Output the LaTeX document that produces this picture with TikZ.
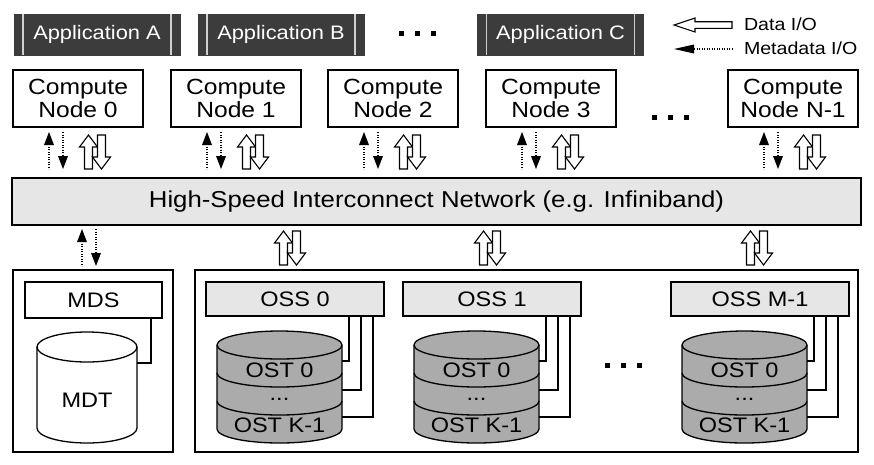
\documentclass[tikz,border=0pt]{standalone}
\usepackage{fontspec}
\setmainfont{Liberation Sans}[FakeStretch=1.12]
\usetikzlibrary{calc}
\definecolor{appgray}{HTML}{3C3C3C}
\definecolor{applight}{HTML}{D0D0D0}
\definecolor{netgray}{HTML}{E6E6E6}
\definecolor{ostgray}{HTML}{ABABAB}
\begin{document}
\begin{tikzpicture}[x=1pt,y=-1pt,
  every node/.style={inner sep=0pt, outer sep=0pt},
  app/.style={fill=appgray, draw=appgray, minimum width=166pt, minimum height=41pt,
    text=white, font=\fontsize{19.5}{21}\selectfont},
  appline/.style={draw=applight, line width=1.4pt},
  box/.style={draw, line width=1.5pt},
  cnode/.style={box, fill=white, minimum width=130pt, minimum height=57pt, align=center,
    font=\fontsize{22}{23}\selectfont},
  net/.style={box, fill=netgray, minimum width=849pt, minimum height=47pt,
    font=\fontsize{23}{25}\selectfont},
  container/.style={box, fill=white},
  server/.style={box, fill=netgray, minimum width=178pt, minimum height=34pt,
    font=\fontsize{21}{23}\selectfont},
  lbl/.style={font=\fontsize{21}{23}\selectfont},
  legend/.style={font=\fontsize{17.5}{19}\selectfont, anchor=west},
  conn/.style={line width=1.2pt},
  cyl/.style={draw, line width=1.3pt},
  hollow/.style={draw, fill=white, line width=1.1pt, line join=miter},
  meta/.style={line width=1.5pt, dash pattern=on 1.4pt off 1.1pt},
  hpair/.pic={
    \path[hollow] (-6.5,0) -- (2.5,12) -- (-2.5,12) -- (-2.5,34) -- (-10.5,34)
      -- (-10.5,12) -- (-15.5,12) -- cycle;
    \path[hollow] (6.5,34) -- (15.5,22) -- (10.5,22) -- (10.5,0) -- (2.5,0)
      -- (2.5,22) -- (-2.5,22) -- cycle;
  },
  mpair/.pic={
    \draw[meta] (-7,12) -- (-7,37);
    \fill (-7,0) -- (-2,13) -- (-12,13) -- cycle;
    \draw[meta] (7,0) -- (7,25);
    \fill (7,37) -- (12,24) -- (2,24) -- cycle;
  },
  dots/.pic={
    \foreach \k in {-1,0,1} \fill ({\k*16-2.5},-2.5) rectangle ++(5,5);
  }]
\useasboundingbox (0,0) rectangle (874,464);

% applications
\foreach \cx/\lab/\nm in {97/A/appA, 281/B/appB, 560.5/C/appC}{
  \node[app] (\nm) at (\cx,34.5) {Application \lab};
  \draw[appline] ([xshift=9pt]\nm.north west) -- ([xshift=9pt]\nm.south west);
  \draw[appline] ([xshift=-9pt]\nm.north east) -- ([xshift=-9pt]\nm.south east);
}
\pic at (417,33) {dots};

% legend
\coordinate (dtip) at (674,25);
\coordinate (mtip) at (674,49);
\coordinate (mend) at (732,49);
\path[hollow] (dtip) -- (695,18) -- (695,21.7) -- (732,21.7) -- (732,28.3)
  -- (695,28.3) -- (695,32) -- cycle;
\fill (mtip) -- (694,44.5) -- (694,53.5) -- cycle;
\draw[meta] (694,49) -- (mend);
\node[legend] (ldata) at (744,24) {Data I/O};
\node[legend] (lmeta) at (744,48) {Metadata I/O};

% compute nodes
\foreach \L/\lab/\nm in {13/0/c0, 171/1/c1, 328/2/c2, 486/3/c3, 728/N-1/cN}{
  \node[cnode, anchor=north west] (\nm) at (\L,70) {Compute\\Node \lab};
  \pic at ({\L+43},132) {mpair};
  \pic at ({\L+82},135) {hpair};
}
\pic at (670,117) {dots};

% network
\node[net] (net) at (436.5,201.5) {High-Speed Interconnect Network (e.g. Infiniband)};

% lower arrows
\pic at (89,229) {mpair};
\foreach \cx in {290,490,757} \pic at (\cx,231) {hpair};

% containers
\node[container, anchor=north west, minimum width=160pt, minimum height=182pt] (mdscont) at (13,270) {};
\node[container, anchor=north west, minimum width=663pt, minimum height=182pt] (osscont) at (195,270) {};

% MDS and MDT
\node[box, fill=white, minimum width=137pt, minimum height=36pt, lbl, anchor=north west] (mds) at (25,282) {MDS};
\path[cyl, fill=white] (37,347) -- (37,428)
  arc[start angle=180, end angle=360, x radius=50pt, y radius=15pt] -- (137,347)
  arc[start angle=0, end angle=180, x radius=50pt, y radius=15pt] -- cycle;
\draw[cyl] (37,347) arc[start angle=180, end angle=360, x radius=50pt, y radius=15pt];
\node[lbl] (mdt) at (87,400) {MDT};
\coordinate (mdtR) at (137,363);
\draw[conn] ([xshift=126pt]mds.south west) |- (mdtR);

% OSS and OSTs
\foreach \L/\lab/\n in {206/0/0, 403/1/1, 671/M-1/2}{
  \node[server, anchor=north west] (oss\n) at (\L,282) {OSS \lab};
  \path[cyl, fill=ostgray] ({\L+11},345) -- ({\L+11},429)
    arc[start angle=180, end angle=360, x radius=62.5pt, y radius=14pt] -- ({\L+136},345)
    arc[start angle=0, end angle=180, x radius=62.5pt, y radius=14pt] -- cycle;
  \foreach \yy in {345,373,401}
    \draw[cyl] ({\L+11},\yy) arc[start angle=180, end angle=360, x radius=62.5pt, y radius=14pt];
  \node[lbl] (ost\n a) at ({\L+73.5},370) {OST 0};
  \node[lbl] (ost\n b) at ({\L+73.5},399) {...};
  \node[lbl] (ost\n c) at ({\L+73.5},425) {OST K-1};
  \coordinate (ostR\n a) at ({\L+136},361);
  \coordinate (ostR\n b) at ({\L+136},390);
  \coordinate (ostR\n c) at ({\L+136},417);
  \draw[conn] ([xshift=143pt]oss\n.south west) |- (ostR\n a);
  \draw[conn] ([xshift=155pt]oss\n.south west) |- (ostR\n b);
  \draw[conn] ([xshift=167pt]oss\n.south west) |- (ostR\n c);
}
\pic at (623,365) {dots};
\end{tikzpicture}
\end{document}
